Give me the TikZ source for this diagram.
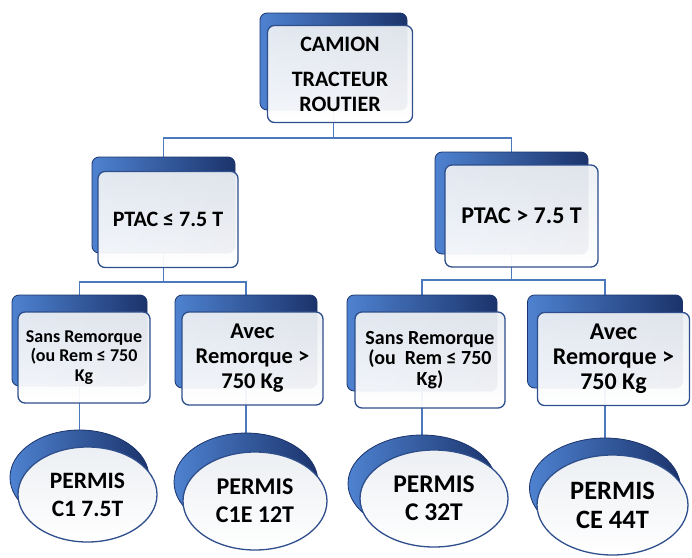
\documentclass[tikz,border=0pt]{standalone}
\usepackage{fontspec}
\setmainfont{Carlito}
\usetikzlibrary{shapes.geometric,backgrounds}
\definecolor{bleuclair}{HTML}{4E82D0}
\definecolor{bleumoyen}{HTML}{3766B5}
\definecolor{bleufonce}{HTML}{1B336B}
\definecolor{trait}{HTML}{4C79BE}
\definecolor{bord}{HTML}{2E4E8C}
\definecolor{grisclair}{HTML}{ECEFF3}

\begin{document}
\begin{tikzpicture}[x=1pt,y=-1pt,
  dos/.style={rounded corners=7pt,left color=bleuclair,middle color=bleumoyen,right color=bleufonce,draw=bleufonce,line width=0.8pt},
  face/.style={rounded corners=7pt,top color=grisclair,bottom color=white,draw=bord,line width=1.3pt,
    fill opacity=0.94,text opacity=1,align=center,inner sep=1pt},
  disque/.style={ellipse,left color=bleuclair,middle color=bleumoyen,right color=bleufonce,draw=bleufonce,line width=0.8pt,inner sep=0pt},
  lentille/.style={ellipse,top color=grisclair,bottom color=white,draw=bord,line width=1.3pt,align=center,inner sep=0pt},
  lien/.style={trait,line width=1.4pt}]
  \useasboundingbox (0,0) rectangle (692,557);

  % niveau 1
  \node[dos,minimum width=147pt,minimum height=97pt] (camion) at (333.5,61.5) {};
  \node[face,minimum width=145pt,minimum height=97pt,font=\bfseries\fontsize{22}{25}\selectfont] (camion-f) at (340,74) {CAMION\\[10pt]TRACTEUR\\ROUTIER};

  % niveau 2
  \node[dos,minimum width=143pt,minimum height=96pt] (ptacA) at (163.5,205) {};
  \node[face,minimum width=140pt,minimum height=96pt,font=\bfseries\fontsize{22}{25}\selectfont] (ptacA-f) at (168,219.5) {PTAC ≤ 7.5 T};
  \node[dos,minimum width=153pt,minimum height=102pt] (ptacB) at (511.5,203) {};
  \node[face,minimum width=153pt,minimum height=102pt,font=\bfseries\fontsize{24}{27}\selectfont] (ptacB-f) at (521.5,216) {PTAC > 7.5 T};

  % niveau 3
  \node[dos,minimum width=135pt,minimum height=91pt] (sansA) at (79.5,340.5) {};
  \node[face,minimum width=132pt,minimum height=91pt,font=\bfseries\fontsize{18}{19.5}\selectfont] (sansA-f) at (84,357.5) {Sans Remorque\\(ou Rem ≤ 750\\Kg};
  \node[dos,minimum width=142pt,minimum height=93pt] (avecA) at (246,341.5) {};
  \node[face,minimum width=141pt,minimum height=93pt,font=\bfseries\fontsize{22.5}{25}\selectfont] (avecA-f) at (252.5,358.5) {Avec\\Remorque >\\750 Kg};
  \node[dos,minimum width=150pt,minimum height=96pt] (sansB) at (422,343) {};
  \node[face,minimum width=150pt,minimum height=96pt,font=\bfseries\fontsize{20}{20.5}\selectfont] (sansB-f) at (430,360) {Sans Remorque\\(ou~ Rem ≤ 750\\Kg)};
  \node[dos,minimum width=155pt,minimum height=93pt] (avecB) at (605,341.5) {};
  \node[face,minimum width=152pt,minimum height=93pt,font=\bfseries\fontsize{24}{25}\selectfont] (avecB-f) at (613.5,359) {Avec\\Remorque >\\750 Kg};

  % permis
  \node[disque,minimum width=139pt,minimum height=95pt] (permA) at (79.5,477.5) {};
  \node[lentille,minimum width=139pt,minimum height=95pt,font=\bfseries\fontsize{23.5}{28}\selectfont] (permA-f) at (87.5,494.5) {PERMIS\\C1 7.5T};
  \node[disque,minimum width=144pt,minimum height=98pt] (permB) at (246,482) {};
  \node[lentille,minimum width=144pt,minimum height=98pt,font=\bfseries\fontsize{24}{28}\selectfont] (permB-f) at (255,501) {PERMIS\\C1E 12T};
  \node[disque,minimum width=148pt,minimum height=97pt] (permC) at (422,483.5) {};
  \node[lentille,minimum width=148pt,minimum height=97pt,font=\bfseries\fontsize{25.5}{28}\selectfont] (permC-f) at (434,498.5) {PERMIS\\C 32T};
  \node[disque,minimum width=151pt,minimum height=100pt] (permD) at (605,488) {};
  \node[lentille,minimum width=151pt,minimum height=100pt,font=\bfseries\fontsize{26.5}{29}\selectfont] (permD-f) at (612.5,505) {PERMIS\\CE 44T};

  \begin{scope}[on background layer]
    \draw[lien] (camion.center) -- ++(0,76.5) -| (ptacA.center);
    \draw[lien] (camion.center) -- ++(0,76.5) -| (ptacB.center);
    \draw[lien] (ptacA.center) -- ++(0,77) -| (sansA.center);
    \draw[lien] (ptacA.center) -- ++(0,77) -| (avecA.center);
    \draw[lien] (ptacB.center) -- ++(0,77) -| (sansB.center);
    \draw[lien] (ptacB.center) -- ++(0,77) -| (avecB.center);
    \draw[lien] (sansA.center) -- (permA.center);
    \draw[lien] (avecA.center) -- (permB.center);
    \draw[lien] (sansB.center) -- (permC.center);
    \draw[lien] (avecB.center) -- (permD.center);
  \end{scope}
\end{tikzpicture}
\end{document}
